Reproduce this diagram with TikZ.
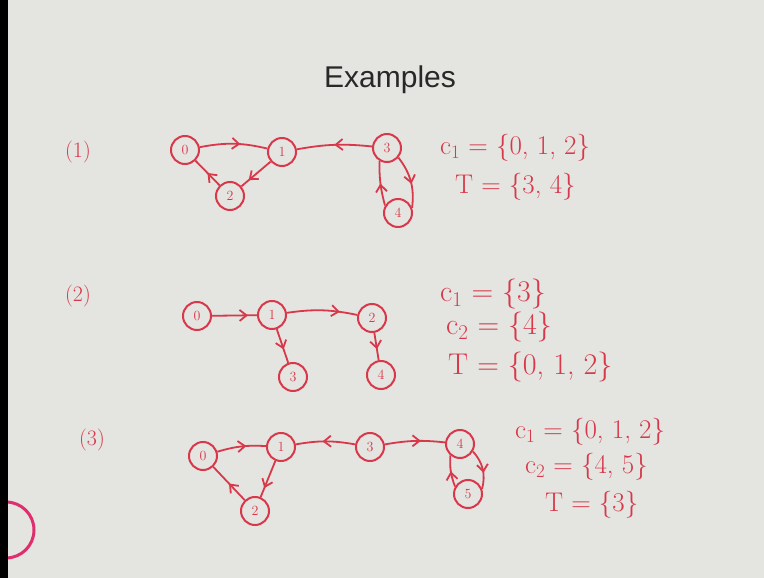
\documentclass[tikz,border=0pt]{standalone}
\usepackage{fontspec}
\usetikzlibrary{arrows.meta,decorations.markings}
\definecolor{bg}{RGB}{228,228,224}
\definecolor{ink}{RGB}{216,56,74}
\definecolor{titlecol}{RGB}{40,40,40}
\newfontfamily\titlefont{Liberation Sans}
\newcommand{\csub}[1]{c\textsubscript{#1}}
\begin{document}
\begin{tikzpicture}[x=1pt,y=-1pt,
  vtx/.style={circle,draw=ink,line width=2pt,minimum size=28pt,inner sep=0pt,text=ink,font=\fontsize{14}{14}\selectfont},
  edge/.style={draw=ink,line width=1.8pt},
  midarr/.style={postaction={decorate},decoration={markings,mark=at position #1 with {\arrow{Straight Barb[length=7pt,width=11pt,line width=1.8pt]}}}},
  hand/.style={text=ink,anchor=west,inner sep=0pt},
  lab/.style={text=ink,font=\fontsize{22}{22}\selectfont,inner sep=0pt}
  ]
\fill[bg] (0,0) rectangle (764,578);
\useasboundingbox (0,0) rectangle (764,578);
\fill[black] (0,0) rectangle (8,578);
\begin{scope}
\clip (8,0) rectangle (764,578);
\draw[ink!80!magenta,line width=3pt] (6,530) circle (28);
\end{scope}

\node[font=\titlefont\fontsize{30}{30}\selectfont,text=titlecol] (title) at (390,80) {Examples};

% Example 1
\node[lab] (l1) at (78,152) {(1)};
\node[vtx] (a0) at (185,150) {0};
\node[vtx] (a1) at (282,152) {1};
\node[vtx] (a3) at (387,148) {3};
\node[vtx] (a2) at (230,196) {2};
\node[vtx] (a4) at (398,213) {4};
\draw[edge,midarr=0.6] (a0) to[bend left=12] (a1);
\draw[edge,midarr=0.5] (a3) to[bend right=8] (a1);
\draw[edge,midarr=0.75] (a1) -- (a2);
\draw[edge,midarr=0.5] (a2) -- (a0);
\draw[edge,midarr=0.55] (a3.-40) to[bend left=22] (a4.20);
\draw[edge,midarr=0.5] (a4.150) to[bend left=8] (a3.-120);
\node[hand,font=\fontsize{27}{27}\selectfont] (t1a) at (440,148) {\csub{1} = \{0, 1, 2\}};
\node[hand,font=\fontsize{27}{27}\selectfont] (t1b) at (455,187) {T = \{3, 4\}};

% Example 2
\node[lab] (l2) at (78,296) {(2)};
\node[vtx] (b0) at (197,316) {0};
\node[vtx] (b1) at (272,315) {1};
\node[vtx] (b2) at (372,318) {2};
\node[vtx] (b3) at (293,377) {3};
\node[vtx] (b4) at (381,375) {4};
\draw[edge,midarr=0.8] (b0) -- (b1);
\draw[edge,midarr=0.75] (b1) to[bend left=10] (b2);
\draw[edge,midarr=0.6] (b1) -- (b3);
\draw[edge,midarr=0.6] (b2) -- (b4);
\node[hand,font=\fontsize{30}{30}\selectfont] (t2a) at (440,294) {\csub{1} = \{3\}};
\node[hand,font=\fontsize{30}{30}\selectfont] (t2b) at (446,327) {\csub{2} = \{4\}};
\node[hand,font=\fontsize{30}{30}\selectfont] (t2c) at (448,367) {T = \{0, 1, 2\}};

% Example 3
\node[lab] (l3) at (92,440) {(3)};
\node[vtx] (c0) at (203,456) {0};
\node[vtx] (c1) at (281,447) {1};
\node[vtx] (c3) at (370,447) {3};
\node[vtx] (c4) at (460,444) {4};
\node[vtx] (c2) at (255,511) {2};
\node[vtx] (c5) at (468,494) {5};
\draw[edge,midarr=0.6] (c0) to[bend left=10] (c1);
\draw[edge,midarr=0.55] (c3) to[bend right=10] (c1);
\draw[edge,midarr=0.6] (c3) to[bend left=8] (c4);
\draw[edge,midarr=0.75] (c1) -- (c2);
\draw[edge,midarr=0.5] (c2) -- (c0);
\draw[edge,midarr=0.6] (c4.-30) to[bend left=28] (c5.20);
\draw[edge,midarr=0.5] (c5.150) to[bend left=12] (c4.-130);
\node[hand,font=\fontsize{27}{27}\selectfont] (t3a) at (515,432) {\csub{1} = \{0, 1, 2\}};
\node[hand,font=\fontsize{27}{27}\selectfont] (t3b) at (525,467) {\csub{2} = \{4, 5\}};
\node[hand,font=\fontsize{27}{27}\selectfont] (t3c) at (545,505) {T = \{3\}};
\end{tikzpicture}
\end{document}
